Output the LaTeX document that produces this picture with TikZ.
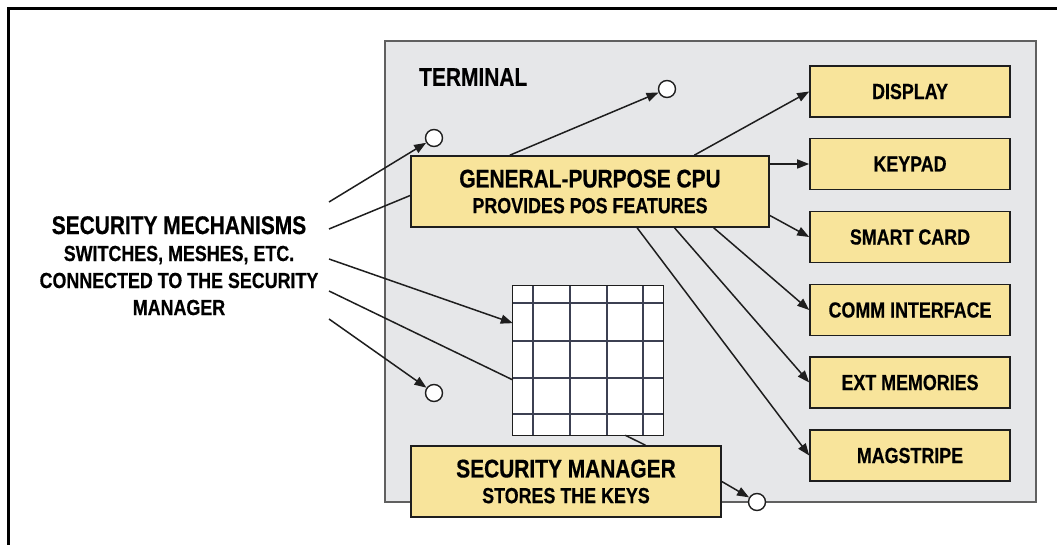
\documentclass[tikz,border=0pt]{standalone}
\usepackage{fontspec}
\setmainfont{Liberation Sans}[FakeStretch=0.82,BoldFeatures={FakeBold=0.5}]
\usetikzlibrary{arrows.meta,calc}
\definecolor{boxyellow}{RGB}{248,228,155}
\definecolor{termgray}{RGB}{230,231,233}
\definecolor{termedge}{RGB}{96,96,96}
\definecolor{gridline}{RGB}{60,64,82}
\definecolor{ink}{RGB}{30,30,30}
\newcommand{\bigtxt}{\fontsize{25.5}{25.7}\selectfont}
\newcommand{\smalltxt}{\fontsize{21.8}{25.7}\selectfont}
\newcommand{\mechtxt}{\fontsize{21.8}{27}\selectfont}
\begin{document}
\begin{tikzpicture}[x=1pt,y=-1pt,
  font=\bfseries\smalltxt,
  ybox/.style={draw=ink,line width=1.6pt,fill=boxyellow,rectangle,inner sep=0pt,align=center},
  sidebox/.style={ybox,minimum width=200pt,minimum height=51pt},
  port/.style={circle,draw=ink,fill=white,line width=1.4pt,minimum size=17pt,inner sep=0pt},
  conn/.style={draw=ink,line width=1.5pt},
  arr/.style={conn,-{Triangle[length=12pt,width=9pt]}},
]
\useasboundingbox (0,0) rectangle (1057,545);
% outer frame (top and left edges)
\draw[black,line width=2.2pt] (8.5,545) -- (8.5,8.5) -- (1057,8.5);
% terminal
\draw[termedge,line width=2.6pt,fill=termgray] (385,41) rectangle (1036,502);
\node[anchor=west,inner sep=0pt,font=\bfseries\bigtxt] (term) at (419,77) {TERMINAL};

% grid (security mesh)
\node[rectangle,fill=white,minimum width=150pt,minimum height=149pt,inner sep=0pt] (grid) at (588,360.5) {};
\foreach \gx in {533,570,607,643} \draw[gridline,line width=2pt] (\gx,286) -- (\gx,435);
\foreach \gy in {303,341,378,414} \draw[gridline,line width=2pt] (513,\gy) -- (663,\gy);
\draw[ink,line width=1.3pt] (grid.north west) rectangle (grid.south east);

% CPU
\node[ybox,minimum width=358pt,minimum height=71pt] (cpu) at (590,191.5)
  {{\bigtxt GENERAL-PURPOSE CPU}\\PROVIDES POS FEATURES};
% peripherals
\node[sidebox] (display) at (910,91.5) {DISPLAY};
\node[sidebox] (keypad) at (910,164) {KEYPAD};
\node[sidebox] (smart) at (910,237) {SMART CARD};
\node[sidebox] (comm) at (910,310) {COMM INTERFACE};
\node[sidebox] (ext) at (910,382.5) {EXT MEMORIES};
\node[sidebox] (mag) at (910,455.5) {MAGSTRIPE};
% security manager
\node[ybox,minimum width=310pt,minimum height=71pt] (sm) at (566,481.5)
  {{\bigtxt SECURITY MANAGER}\\STORES THE KEYS};

% ports
\node[port] (c1) at (434,138) {};
\node[port] (c2) at (667,89) {};
\node[port] (c3) at (434,393) {};
\node[port] (c4) at (757,502) {};

% security mechanisms label
\node[anchor=north,inner sep=0pt,align=center,font=\bfseries\mechtxt] (mech) at (179,216)
  {{\bigtxt SECURITY MECHANISMS}\\SWITCHES, MESHES, ETC.\\CONNECTED TO THE SECURITY\\MANAGER};
\coordinate (m1) at (329,202);
\coordinate (m2) at (329,229);
\coordinate (m3) at (329,259);
\coordinate (m4) at (329,291);
\coordinate (m5) at (329,319);

% connectors from security mechanisms
\draw[arr] (m1) -- (c1);
\draw[conn] (m2) -- ([yshift=-4pt]cpu.west);
\draw[arr] (m3) -- ($(grid.north west)!0.25!(grid.south west)$);
\draw[conn] (m4) -- ($(grid.north west)!0.63!(grid.south west)$);
\draw[arr] (m5) -- (c3);
% grid to security manager
\draw[conn] ($(grid.south west)!0.747!(grid.south east)$) -- ($(sm.north west)!0.755!(sm.north east)$);
\draw[arr] (sm.east) -- (c4);

% CPU connectors
\draw[arr] ($(cpu.north west)!0.277!(cpu.north east)$) -- (c2);
\draw[arr] ($(cpu.north west)!0.79!(cpu.north east)$) -- (display.west);
\draw[arr] (cpu.east |- keypad.west) -- (keypad.west);
\draw[arr] ($(cpu.north east)!0.83!(cpu.south east)$) -- (smart.west);
\draw[arr] ($(cpu.south west)!0.844!(cpu.south east)$) -- (comm.west);
\draw[arr] ($(cpu.south west)!0.735!(cpu.south east)$) -- (ext.west);
\draw[arr] ($(cpu.south west)!0.631!(cpu.south east)$) -- (mag.west);
\end{tikzpicture}
\end{document}
